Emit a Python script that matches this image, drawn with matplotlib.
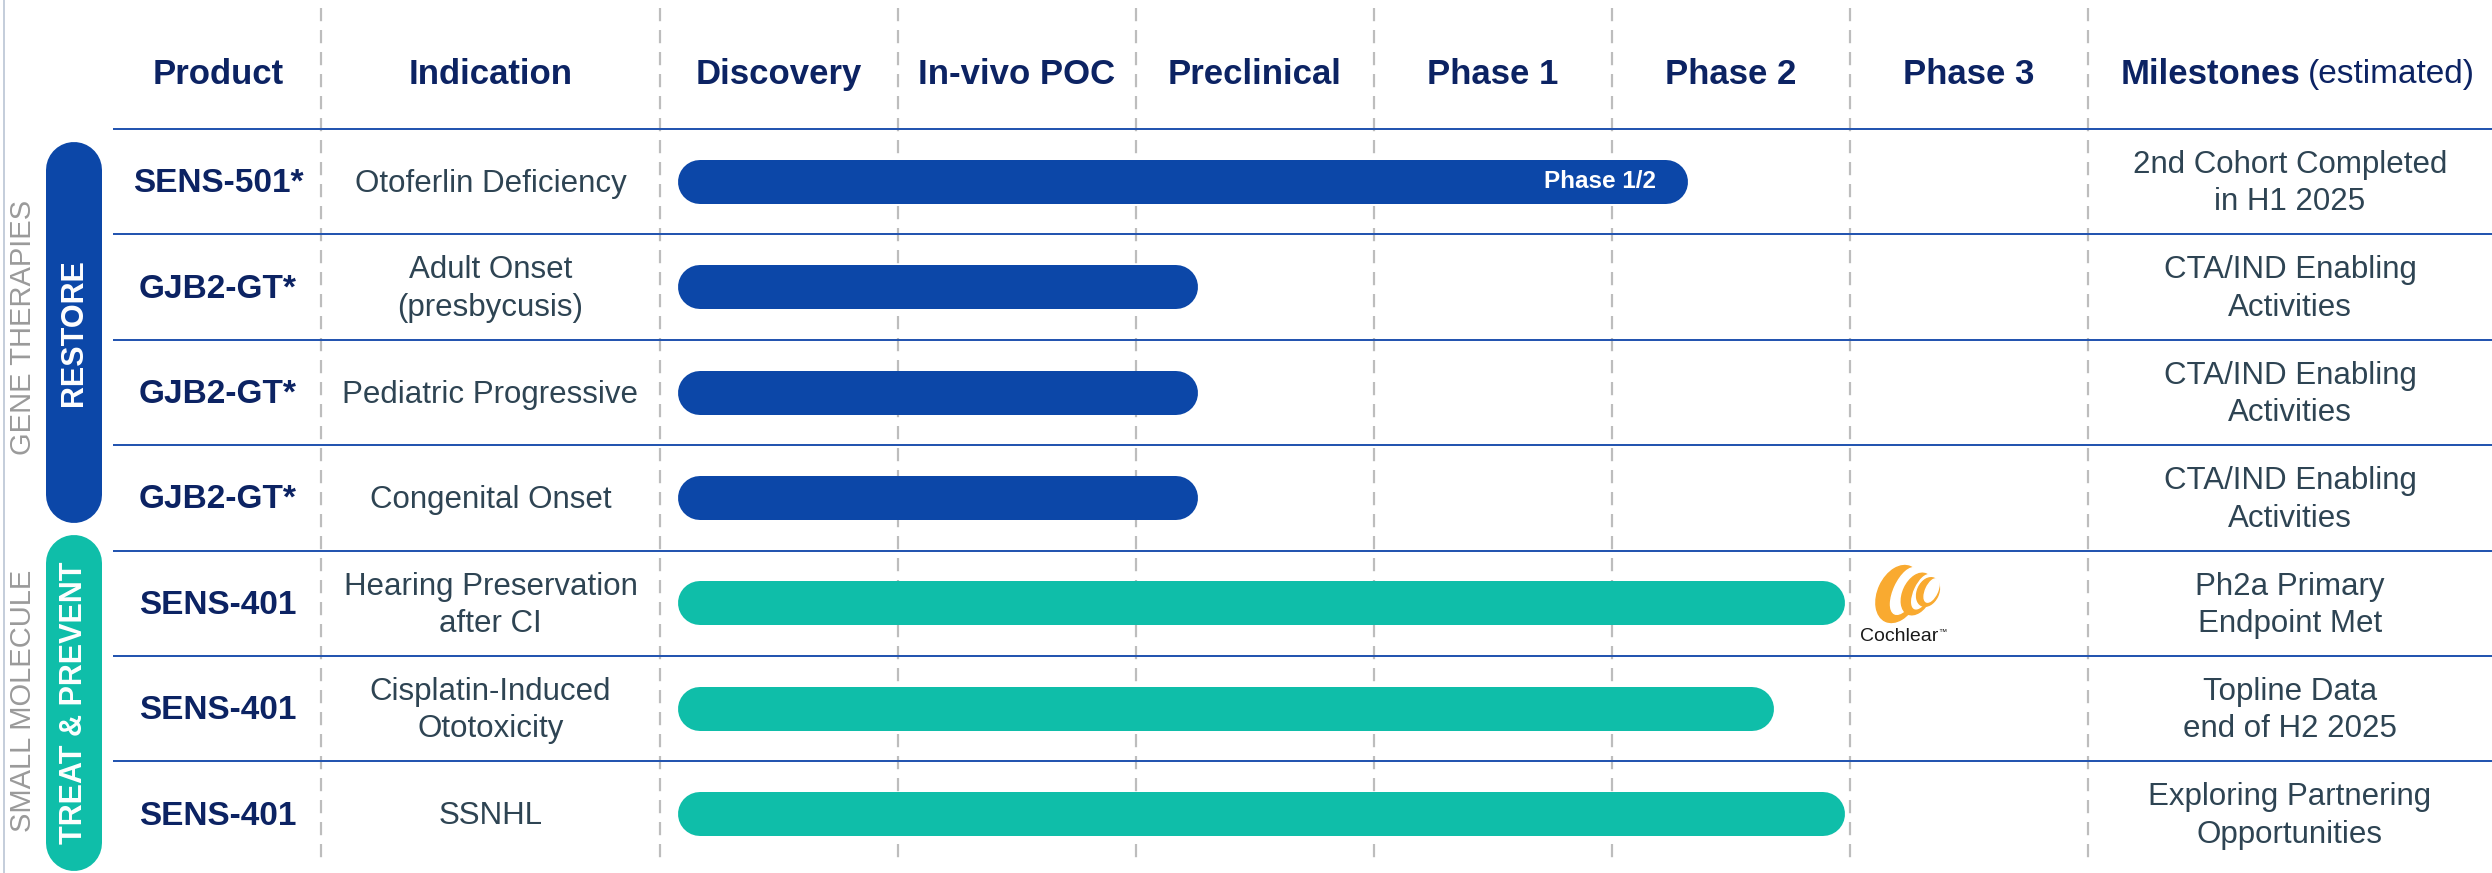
import matplotlib
matplotlib.use("Agg")
import matplotlib.pyplot as plt
from matplotlib.patches import Ellipse

plt.rcParams['font.family'] = ['Liberation Sans', 'DejaVu Sans']

# ---- data ----
stages = ["Discovery", "In-vivo POC", "Preclinical", "Phase 1", "Phase 2", "Phase 3"]
products = ["SENS-501*", "GJB2-GT*", "GJB2-GT*", "GJB2-GT*", "SENS-401", "SENS-401", "SENS-401"]
indications = ["Otoferlin Deficiency", "Adult Onset\n(presbycusis)", "Pediatric Progressive",
               "Congenital Onset", "Hearing Preservation\nafter CI", "Cisplatin-Induced\nOtotoxicity",
               "SSNHL"]
progress = [4.32, 2.26, 2.26, 2.26, 4.98, 4.68, 4.98]   # bar end, in stage columns
bar_start = 0.075
bar_labels = ["Phase 1/2", "", "", "", "", "", ""]
modality = ["gene", "gene", "gene", "gene", "small", "small", "small"]
milestones = ["2nd Cohort Completed\nin H1 2025", "CTA/IND Enabling\nActivities",
              "CTA/IND Enabling\nActivities", "CTA/IND Enabling\nActivities",
              "Ph2a Primary\nEndpoint Met", "Topline Data\nend of H2 2025",
              "Exploring Partnering\nOpportunities"]
group_names = ["GENE THERAPIES", "SMALL MOLECULE"]
group_tags = ["RESTORE", "TREAT & PREVENT"]

NAVY = "#0c2363"
SLATE = "#2e4453"
BLUE = "#0c47a8"
TEAL = "#0fbea9"
LINE = "#2455b0"
GRID = "#bdbdbd"
colors = {"gene": BLUE, "small": TEAL}

W, H = 2492, 873
COL = 238.0     # px per stage column
X0 = 660.0      # px where Discovery starts
ROW = 105.4     # px per row
Y0 = 129.0      # px of first row line


def px2x(p):
    return (p - X0) / COL


def px2y(p):
    return (p - Y0) / ROW - 0.5


def lw(p):
    return p * 0.72


fig = plt.figure(figsize=(W / 100, H / 100), dpi=100)
ax = fig.add_axes([0, 0, 1, 1])
ax.set_xlim(px2x(0), px2x(W))
ax.set_ylim(px2y(H), px2y(0))
ax.axis("off")

n = len(products)

# column boundaries (dashed)
bounds = [px2x(321)] + list(range(len(stages) + 1))
for b in bounds:
    ax.plot([b, b], [px2y(8), px2y(860)], color=GRID, lw=lw(2.2), dashes=(6, 4), zorder=1)

# row lines
for i in range(n):
    ax.plot([px2x(114), px2x(W)], [i - 0.5, i - 0.5], color=LINE, lw=lw(2), zorder=2)

# left border
ax.plot([px2x(4), px2x(4)], [px2y(0), px2y(H)], color="#b3bfd0", lw=lw(1.5))

# headers
hy = px2y(74)
prod_x = px2x(218)
ind_x = (bounds[0] + 0) / 2
mile_x = px2x(2290)
ax.text(prod_x, hy, "Product", ha="center", va="center", fontsize=25, fontweight="bold", color=NAVY)
ax.text(ind_x, hy, "Indication", ha="center", va="center", fontsize=25, fontweight="bold", color=NAVY)
for k, s in enumerate(stages):
    ax.text(k + 0.5, hy, s, ha="center", va="center", fontsize=25, fontweight="bold", color=NAVY)
ax.text(px2x(2300), hy, "Milestones", ha="right", va="center", fontsize=25, fontweight="bold", color=NAVY)
ax.text(px2x(2308), hy, "(estimated)", ha="left", va="center", fontsize=24, color=NAVY)

# rows
cap = 22 / COL
for i in range(n):
    ty = i + 2 / ROW
    ax.text(prod_x, ty, products[i], ha="center", va="center", fontsize=24, fontweight="bold", color=NAVY)
    ax.text(ind_x, ty, indications[i], ha="center", va="center", fontsize=22.5, color=SLATE,
            linespacing=1.32)
    ax.text(mile_x, ty, milestones[i], ha="center", va="center", fontsize=22.5, color=SLATE,
            linespacing=1.32)
    ax.plot([bar_start + cap, progress[i] - cap], [i, i], color=colors[modality[i]],
            lw=lw(44), solid_capstyle="round", zorder=3)
    if bar_labels[i]:
        ax.text(progress[i] - 32 / COL, i, bar_labels[i], ha="right", va="center",
                fontsize=17.5, fontweight="bold", color="white", zorder=4)

# group pills on the left
pills = [(142, 523), (535, 871)]
name_y = [327, 701]
for g in range(2):
    top, bot = pills[g]
    c = BLUE if g == 0 else TEAL
    ax.plot([px2x(74), px2x(74)], [px2y(top + 28), px2y(bot - 28)], color=c, lw=lw(56),
            solid_capstyle="round", zorder=3)
    ax.text(px2x(74), px2y((top + bot) / 2), group_tags[g], rotation=90, ha="center",
            va="center", fontsize=22, fontweight="bold", color="white", zorder=4)
    ax.text(px2x(23), px2y(name_y[g]), group_names[g], rotation=90, ha="center", va="center",
            fontsize=21, color="#9a9a9a")

# Cochlear logo next to the hearing-preservation bar
lax = fig.add_axes([1866 / W, 1 - 628 / H, 80 / W, 68 / H])
lax.set_xlim(0, 80)
lax.set_ylim(0, 68)
lax.set_aspect("equal")
lax.axis("off")
ORANGE = "#f9aa30"
shapes = [((32, 34), 60, 40, 65), ((51, 34), 44, 28, 65), ((62, 36), 30, 21, 65)]
for (cx, cy), a, b, ang in shapes:
    lax.add_patch(Ellipse((cx, cy), a, b, angle=ang, color=ORANGE))
    lax.add_patch(Ellipse((cx + 0.12 * a, cy + 0.05 * a), a * 0.84, b * 0.56, angle=ang,
                          color="white"))
t = ax.text(px2x(1860), px2y(641), "Cochlear", ha="left", va="baseline", fontsize=14,
            color="#1a1a1a")
ax.annotate("\u2122", xy=(1, 0.75), xycoords=t, ha="left", va="center", fontsize=6, color="#1a1a1a")

fig.savefig("out.png", dpi=100)
